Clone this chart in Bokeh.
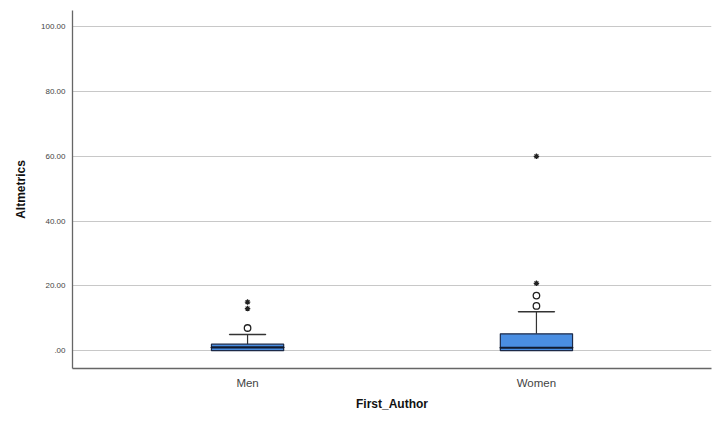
from bokeh.plotting import figure
from bokeh.models import FactorRange, Range1d, FixedTicker, ColumnDataSource
from bokeh.embed import file_html
from bokeh.resources import INLINE

categories = ["Men", "Women"]
q1 = [0.0, 0.0]
median = [1.0, 0.9]
q3 = [2.0, 5.2]
whisker_low = [0.0, 0.0]
whisker_high = [5.0, 12.0]

outlier_cat = ["Men", "Women", "Women"]
outlier_val = [7.0, 13.8, 17.0]

extreme_cat = ["Men", "Men", "Women", "Women"]
extreme_val = [13.0, 15.0, 20.8, 60.0]

y_ticks = [0, 20, 40, 60, 80, 100]
y_tick_labels = [".00", "20.00", "40.00", "60.00", "80.00", "100.00"]

p = figure(width=719, height=421, output_backend="svg", toolbar_location=None,
           x_range=FactorRange(factors=categories, range_padding=0.106),
           y_range=Range1d(-5.5, 105),
           min_border_left=72, min_border_right=8, min_border_top=10, min_border_bottom=53)
p.outline_line_color = None
p.background_fill_color = "white"

src = ColumnDataSource(dict(cat=categories, q1=q1, med=median, q3=q3,
                            lo=whisker_low, hi=whisker_high))

# whisker stems
p.segment(x0="cat", y0="q3", x1="cat", y1="hi", source=src, line_color="#333333", line_width=1.2)
p.segment(x0="cat", y0="lo", x1="cat", y1="q1", source=src, line_color="#333333", line_width=1.2)
# caps
p.rect(x="cat", y="hi", width=0.125, height=0.0001, source=src, line_color="#333333", line_width=1.5, fill_color=None)
# boxes
p.vbar(x="cat", top="q3", bottom="q1", width=0.25, source=src,
       fill_color="#4a8ee2", line_color="#1c2a48", line_width=1.2)
# medians
p.rect(x="cat", y="med", width=0.25, height=0.0001, source=src, line_color="#111a2e", line_width=2.2, fill_color=None)

p.scatter(x=outlier_cat, y=outlier_val, marker="circle", size=6.5, fill_color="white",
          line_color="#222222", line_width=1.3)
p.scatter(x=extreme_cat, y=extreme_val, marker="asterisk", size=5.5,
          line_color="#222222", line_width=1.3)

p.yaxis.ticker = FixedTicker(ticks=y_ticks)
p.yaxis.major_label_overrides = {t: l for t, l in zip(y_ticks, y_tick_labels)}
p.yaxis.axis_label = "Altmetrics"
p.xaxis.axis_label = "First_Author"

for ax in (p.xaxis, p.yaxis):
    ax.axis_line_color = "#666666"
    ax.axis_line_width = 1.3
    ax.major_tick_line_color = None
    ax.minor_tick_line_color = None
    ax.major_tick_out = 0
    ax.major_tick_in = 0
    ax.minor_tick_out = 0
    ax.minor_tick_in = 0
    ax.major_label_text_color = "#444444"
    ax.major_label_text_font = "Liberation Sans"
    ax.axis_label_text_font = "Liberation Sans"
    ax.axis_label_text_font_style = "bold"
    ax.axis_label_text_font_size = "12px"
    ax.axis_label_text_color = "#111111"

p.yaxis.major_label_text_font_size = "8px"
p.yaxis.major_label_standoff = 7
p.yaxis.axis_label_standoff = 10
p.xaxis.major_label_text_font_size = "11.5px"
p.xaxis.major_label_standoff = 8
p.xaxis.axis_label_standoff = 5

p.xgrid.grid_line_color = None
p.ygrid.grid_line_color = "#c8c8c8"
p.ygrid.grid_line_width = 1.2

open("out.html", "w").write(file_html(p, INLINE))
